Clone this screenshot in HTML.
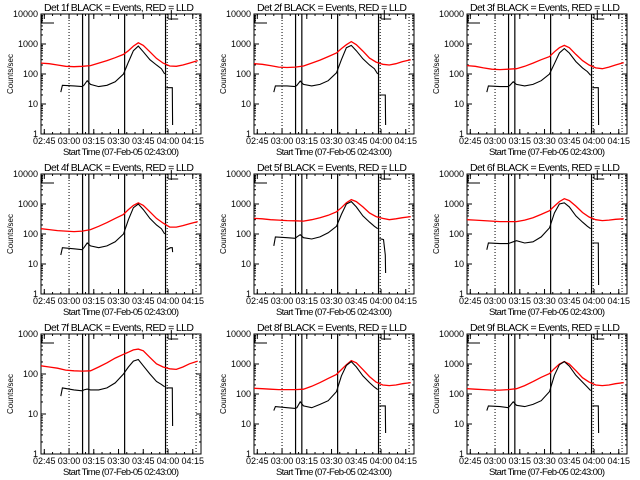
<!DOCTYPE html>
<html><head><meta charset="utf-8"><style>
html,body{margin:0;padding:0;background:#fff;}
svg{display:block;font-family:"Liberation Sans",sans-serif;}
</style></head><body>
<svg id="c" width="640" height="480" viewBox="0 0 640 480"></svg>
<script>
// time samples, minutes after 02:43
const times = [0,5,10,15,20,25,30,35,40,45,50,53,56,59,62,66,70,74,78,82,86,90,95];
const blackTimes = [12,13,20,25,26,28,30,35,40,45,50,53,56,59,62,66,70,73,75];
const tailTimes = [76,78.5,79.6,79.8];
const titles = ["Det 1f","Det 2f","Det 3f","Det 4f","Det 5f","Det 6f","Det 7f","Det 8f","Det 9f"];
const red1 = [230,220,200,180,175,180,190,230,280,350,450,600,850,1100,900,550,330,230,185,180,200,230,280];
const red2 = [220,210,190,170,165,170,185,230,290,380,500,700,950,1200,950,580,340,250,210,200,220,260,300];
const red3 = [190,180,160,145,140,145,150,180,230,300,380,550,750,900,750,450,280,200,160,150,170,200,240];
const red4 = [150,140,130,125,120,125,140,180,240,330,450,650,900,1100,900,550,330,230,170,170,190,220,260];
const red5 = [330,320,300,290,280,275,270,300,350,420,550,750,1100,1400,1200,800,500,380,330,300,320,350,380];
const red6 = [300,290,280,270,260,260,260,290,350,450,600,850,1200,1500,1300,850,520,370,300,280,290,310,320];
const red7 = [160,150,140,125,120,118,120,150,190,250,310,350,400,420,380,260,180,150,135,130,150,180,210];
const red8 = [155,150,145,140,140,140,145,180,240,330,450,650,950,1300,1100,650,380,250,200,190,200,220,240];
const red9 = [150,145,140,135,135,140,150,190,260,360,480,700,1000,1200,1000,600,350,250,200,190,200,220,240];
const blk1 = [25,42,40,38,42,60,45,38,42,55,100,250,600,850,550,300,200,150,100];
const blk2 = [25,40,40,38,42,58,45,40,45,60,110,300,750,900,600,320,200,150,100];
const blk3 = [25,40,38,38,42,55,45,40,45,60,100,220,500,700,500,260,160,120,90];
const blk4 = [20,35,32,30,35,50,40,35,40,55,100,300,750,1000,650,330,200,150,100];
const blk5 = [40,80,75,72,80,95,75,68,80,110,180,450,1000,1200,800,400,250,180,150];
const blk6 = [30,50,48,48,50,55,60,50,55,80,160,500,1000,1100,800,400,250,180,150];
const blk7 = [28,45,40,38,40,42,40,40,45,60,100,150,210,230,160,100,65,55,48];
const blk8 = [28,38,35,33,35,55,40,35,45,60,120,400,900,1200,800,400,240,170,140];
const blk9 = [28,40,38,35,40,55,42,38,45,60,120,420,950,1200,850,420,250,170,130];
const tail1 = [35,35,35,2];
const tail2 = [20,20,20,2];
const tail3 = [35,35,35,2];
const tail4 = [30,35,35,25];
const tail5 = [70,65,20,5];
const tail6 = [50,50,50,2];
const tail7 = [45,45,45,5];
const tail8 = [40,40,40,5];
const tail9 = [40,40,40,5];
const reds = [red1,red2,red3,red4,red5,red6,red7,red8,red9];
const blacks = [blk1,blk2,blk3,blk4,blk5,blk6,blk7,blk8,blk9];
const tails = [tail1,tail2,tail3,tail4,tail5,tail6,tail7,tail8,tail9];
const yMaxExp = [4,4,4,4,4,4,3,4,4];
const tickLabels = ["02:45","03:00","03:15","03:30","03:45","04:00","04:15"];
const tickMinutes = [2,17,32,47,62,77,92];
const solidLines = [25.2,29,50.7,75.5];
const dottedLines = [17,76.5,94];

const svg = document.getElementById('c');
const NS = 'http://www.w3.org/2000/svg';
function mk(tag, attrs, parent){const e=document.createElementNS(NS,tag);for(const k in attrs)e.setAttribute(k,attrs[k]);parent.appendChild(e);return e;}

for(let p=0;p<9;p++){
  const ox=(p%3)*213, oy=Math.floor(p/3)*160;
  const L=ox+41,R=ox+201,T=oy+14,B=oy+134;
  const g=mk('g',{},svg);
  
  
  const xs=t=>L+(t)*(R-L)/97;
  const emax=yMaxExp[p];
  const ys=v=>B-Math.log10(v)*(B-T)/emax;
  const fr=mk('rect',{x:L,y:T,width:R-L,height:B-T,fill:'none',stroke:'#000','stroke-width':1},g);
  
  
  for(let e=0;e<=emax;e++){
    const y=ys(Math.pow(10,e));
    mk('line',{x1:L,x2:L+5,y1:y,y2:y,stroke:'#000'},g);
    mk('line',{x1:R,x2:R-5,y1:y,y2:y,stroke:'#000'},g);
    const lb=mk('text',{x:L-3,y:y+3,'font-size':9,'text-anchor':'end'},g);
    lb.textContent=String(Math.pow(10,e));
    
    
    if(e<emax)for(let m=2;m<10;m++){const yy=ys(m*Math.pow(10,e));
      mk('line',{x1:L,x2:L+2,y1:yy,y2:yy,stroke:'#000'},g);
      mk('line',{x1:R,x2:R-2,y1:yy,y2:yy,stroke:'#000'},g);}
  }
  for(let i=0;i<tickMinutes.length;i++){
    const x=xs(tickMinutes[i]);
    mk('line',{x1:x,x2:x,y1:B,y2:B-5,stroke:'#000'},g);
    mk('line',{x1:x,x2:x,y1:T,y2:T+5,stroke:'#000'},g);
    const lb=mk('text',{x:x,y:B+10,'font-size':9,'text-anchor':'middle'},g);
    lb.textContent=tickLabels[i];
    
    
  }
  for(let m=0;m<97;m+=5){const x=xs(m+2);if(x<R){mk('line',{x1:x,x2:x,y1:B,y2:B-2,stroke:'#000'},g);mk('line',{x1:x,x2:x,y1:T,y2:T+2,stroke:'#000'},g);}}
  for(const t of dottedLines){const x=xs(t);mk('line',{x1:x,x2:x,y1:T,y2:B,stroke:'#000','stroke-dasharray':'1,2'},g);}
  for(const t of solidLines){const x=xs(t);mk('line',{x1:x,x2:x,y1:T,y2:B,stroke:'#000','stroke-width':1.2},g);}
  mk('path',{d:`M${L+1} ${T+1}v8h12M${xs(76.5)+1} ${T+5}h10M${xs(79)} ${T-4}v10`,fill:'none',stroke:'#000'},g);
  const rd=reds[p].map((v,i)=>(i?'L':'M')+xs(times[i]).toFixed(1)+' '+ys(v).toFixed(1)).join('');
  const rp=mk('path',{d:rd,fill:'none',stroke:'#ff0000','stroke-width':1.3},g);
  
  
  let bd=blacks[p].map((v,i)=>(i?'L':'M')+xs(blackTimes[i]).toFixed(1)+' '+ys(v).toFixed(1)).join('');
  bd+=tails[p].map((v,i)=>(i?'L':'M')+xs(tailTimes[i]).toFixed(1)+' '+ys(v).toFixed(1)).join('');
  const bp=mk('path',{d:bd,fill:'none',stroke:'#000','stroke-width':1.1},g);
  
  
  const tt=mk('text',{x:ox+119,y:oy+11,'font-size':10.5,'text-anchor':'middle',textLength:150},g);
  tt.textContent=titles[p]+' BLACK = Events, RED = LLD';
  
  
  const xt=mk('text',{x:ox+121,y:oy+155,'font-size':9.5,'text-anchor':'middle',textLength:116},g);
  xt.textContent='Start Time (07-Feb-05 02:43:00)';
  
  
  const yt=mk('text',{x:0,y:0,'font-size':8,'text-anchor':'middle',transform:`translate(${ox+13},${oy+74}) rotate(-90)`},g);
  yt.textContent='Counts/sec';
  
  
}
</script>
</body></html>
